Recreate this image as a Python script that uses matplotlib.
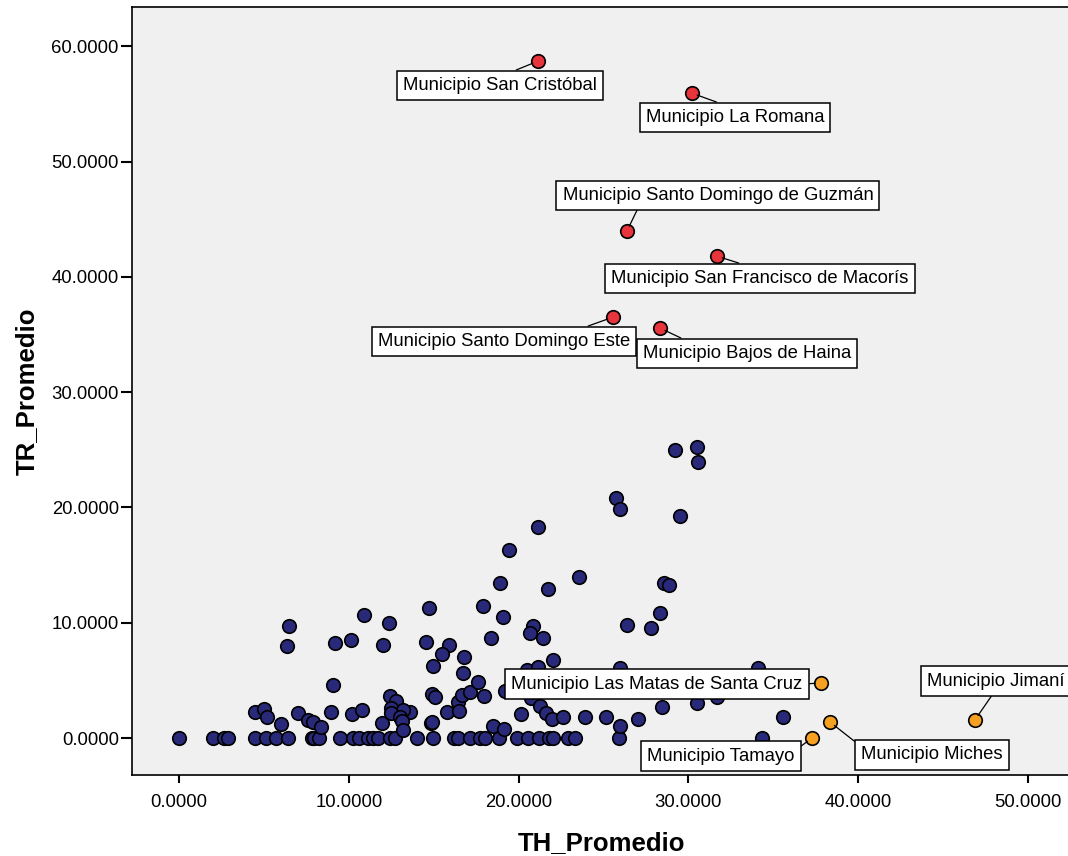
import matplotlib
matplotlib.use("Agg")
import matplotlib.pyplot as plt
import numpy as np

plt.rcParams['font.family'] = ['Liberation Sans', 'DejaVu Sans']

# municipios with no label (TH_Promedio, TR_Promedio)
th_cero = [0.0, 1.98, 2.67, 2.87, 4.48, 5.12, 5.69, 6.44, 7.81, 7.97, 8.26,
           9.50, 10.27, 10.62, 11.15, 11.44, 11.74, 12.43, 12.72, 14.03,
           14.98, 16.20, 16.45, 17.14, 17.73, 18.02, 18.86, 19.91, 20.57,
           21.22, 21.81, 22.03, 22.93, 23.32, 25.93, 34.32]
tr_cero = [0.0] * len(th_cero)

th_resto = [6.48, 6.38, 10.91, 9.19, 10.11, 12.03, 12.38, 9.09, 4.48, 5.00,
            5.16, 6.01, 7.01, 7.62, 7.91, 8.36, 8.95, 10.21, 10.76, 11.95,
            12.43, 12.78, 12.50, 13.60, 13.17, 12.50, 13.00, 13.13, 13.20,
            14.88, 15.08, 14.82, 14.92, 15.80, 16.45, 16.49, 16.65, 17.14,
            17.60, 17.96, 18.90, 21.75, 23.56, 14.74, 17.88, 19.06, 20.87,
            20.67, 21.46, 18.37, 14.55, 15.90, 15.47, 16.80, 14.98, 22.04,
            16.70, 19.20, 20.47, 21.16, 20.76, 21.26, 21.60, 21.95, 22.63,
            23.89, 20.14, 18.51, 19.16, 28.56, 28.88, 28.36, 26.40, 27.78,
            25.97, 34.12, 28.46, 30.49, 31.70, 25.13, 25.99, 27.05, 35.59,
            29.21, 30.49, 30.54, 25.72, 25.97, 29.50, 21.14, 19.46]
tr_resto = [9.74, 8.01, 10.69, 8.21, 8.47, 8.09, 9.97, 4.60, 2.25, 2.54,
            1.79, 1.24, 2.20, 1.56, 1.36, 0.98, 2.28, 2.08, 2.45, 1.30,
            3.64, 3.24, 2.60, 2.28, 2.43, 2.14, 1.79, 1.50, 0.69,
            3.82, 3.53, 1.27, 1.41, 2.28, 3.15, 2.37, 3.73, 4.02,
            4.85, 3.64, 13.47, 12.92, 13.93, 11.27, 11.45, 10.47, 9.71,
            9.13, 8.65, 8.65, 8.35, 8.04, 7.29, 7.05, 6.22, 6.77,
            5.61, 4.10, 5.90, 6.13, 3.44, 2.78, 2.14, 1.62, 1.79,
            1.79, 2.08, 1.04, 0.75, 13.47, 13.30, 10.81, 9.83, 9.51,
            6.04, 6.04, 2.72, 3.06, 3.53, 1.79, 1.04, 1.65, 1.85,
            24.98, 25.27, 23.97, 20.79, 19.86, 19.25, 18.33, 16.28]

# labelled municipios, high TR
nombres_tr = ["Municipio San Cristóbal", "Municipio La Romana",
              "Municipio Santo Domingo de Guzmán",
              "Municipio San Francisco de Macorís",
              "Municipio Santo Domingo Este", "Municipio Bajos de Haina"]
th_tr = [21.14, 30.21, 26.38, 31.68, 25.56, 28.33]
tr_tr = [58.72, 55.94, 43.97, 41.80, 36.51, 35.56]

# labelled municipios, high TH
nombres_th = ["Municipio Las Matas de Santa Cruz", "Municipio Tamayo",
              "Municipio Miches", "Municipio Jimaní"]
th_th = [37.81, 37.28, 38.34, 46.88]
tr_th = [4.77, 0.0, 1.39, 1.56]

# label offsets (pixels) and where the leader line leaves the box
offs_tr = [(-38, -24), (43, -24), (91, 36), (43, -22), (-109, -24), (87, -25)]
rel_tr = [(0.5, 1), (0.5, 1), (0.25, 0), (0.5, 1), (0.76, 1), (0.25, 1)]
offs_th = [(-164, -1), (-91, -18), (102, -33), (21, 39)]
rel_th = [(1, 0.5), (1, 0.8), (0, 1), (0.5, 0)]

fig = plt.figure(figsize=(10.68, 8.56), dpi=100)
ax = fig.add_axes([0.1236, 0.0946, 0.88, 0.897])
ax.set_facecolor('#F0F0F0')

navy = '#29297A'
ax.scatter(th_cero + th_resto, tr_cero + tr_resto, s=95, c=navy,
           edgecolors='black', linewidths=1.2, zorder=2)
ax.scatter(th_tr, tr_tr, s=95, c='#E8353B', edgecolors='black',
           linewidths=1.2, zorder=2)
ax.scatter(th_th, tr_th, s=95, c='#F5A020', edgecolors='black',
           linewidths=1.2, zorder=2)

caja = dict(boxstyle='square,pad=0.33', fc='white', ec='black', lw=1.1)
for nombres, xs, ys, offs, rels in [(nombres_tr, th_tr, tr_tr, offs_tr, rel_tr),
                                    (nombres_th, th_th, tr_th, offs_th, rel_th)]:
    for nombre, x, y, off, rel in zip(nombres, xs, ys, offs, rels):
        ax.annotate(nombre, xy=(x, y), xytext=off, textcoords='offset pixels',
                    ha='center', va='center', fontsize=13.3, bbox=caja,
                    arrowprops=dict(arrowstyle='-', color='black', lw=0.9,
                                    relpos=rel, shrinkA=0, shrinkB=4),
                    annotation_clip=False, zorder=4)

ax.set_xlim(-2.77, 52.59)
ax.set_ylim(-3.21, 63.40)
ax.set_xticks(np.arange(0, 51, 10))
ax.set_yticks(np.arange(0, 61, 10))
ax.xaxis.set_major_formatter(matplotlib.ticker.FormatStrFormatter('%.4f'))
ax.yaxis.set_major_formatter(matplotlib.ticker.FormatStrFormatter('%.4f'))
ax.tick_params(axis='both', labelsize=13.3, width=1.5, direction='out')
ax.tick_params(axis='y', length=8, pad=1.5)
ax.tick_params(axis='x', length=6, pad=8)

for lado in ['left', 'bottom', 'top']:
    ax.spines[lado].set_linewidth(1.2)
ax.spines['right'].set_visible(False)

ax.set_xlabel('TH_Promedio', fontsize=18.5, fontweight='bold', labelpad=14)
ax.set_ylabel('TR_Promedio', fontsize=18.5, fontweight='bold', labelpad=9)

plt.savefig("out.png", format="png", dpi=100)
